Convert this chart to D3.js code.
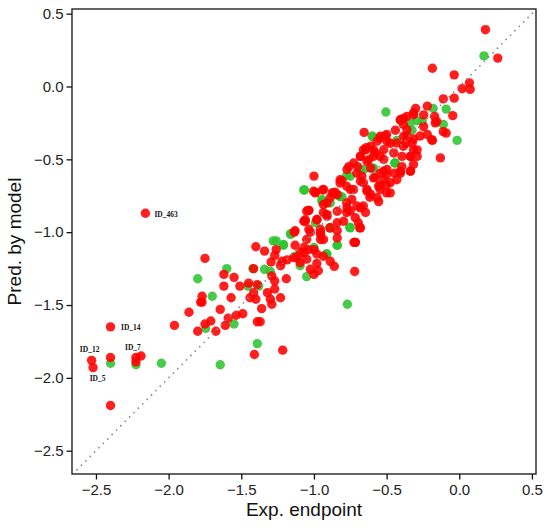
<!DOCTYPE html>
<html lang="en">
<head>
<meta charset="UTF-8">
<title>Exp. vs Pred.</title>
<style>
  body { margin: 0; background: #fff; }
  .tick text { font-family: 'Liberation Sans', Arial, sans-serif; font-size: 15px; fill: #222; }
  .axis-title { font-family: 'Liberation Sans', Arial, sans-serif; font-size: 19px; fill: #111; }
  .id-label { font-family: 'Liberation Serif', 'Times New Roman', serif; font-weight: bold; font-size: 7.5px; fill: #111; }
</style>
</head>
<body>
<div id="chart"></div>
<script src="https://d3js.org/d3.v7.min.js"></script>
<script>
// tick values
const xTicks = [-2.5, -2.0, -1.5, -1.0, -0.5, 0.0, 0.5];
const yTicks = [-2.5, -2.0, -1.5, -1.0, -0.5, 0.0, 0.5];

// green points [exp, pred]
const greenPts = [
  [-2.40,-1.90], [-2.225,-1.91], [-2.05,-1.90], [-1.80,-1.32], [-1.60,-1.25], [-1.70,-1.44],
  [-1.745,-1.66], [-1.55,-1.63], [-1.455,-1.37], [-1.38,-1.37], [-1.39,-1.765], [-1.645,-1.91],
  [-1.34,-1.255], [-1.42,-1.25], [-1.30,-1.27], [-1.28,-1.06], [-1.26,-1.06], [-1.21,-1.09],
  [-1.16,-1.015], [-1.13,-1.165], [-1.095,-1.23], [-1.05,-1.305], [-0.915,-1.15], [-0.77,-1.495],
  [-0.84,-1.09], [-0.99,-0.935], [-0.89,-0.97], [-1.07,-0.71], [-0.83,-0.75], [-0.755,-0.965],
  [0.17,0.21], [-0.09,-0.155], [-0.18,-0.15], [-0.505,-0.175], [-0.29,-0.235], [-0.325,-0.30],
  [-0.11,-0.26], [-0.015,-0.37], [-0.60,-0.34], [-0.43,-0.37], [-0.445,-0.525], [-0.68,-0.57],
  [-0.775,-0.61], [-1.065,-0.71], [-0.82,-0.755], [-0.945,-0.775], [-0.75,-0.97], [-1.16,-1.01],
  [-0.255,-0.24], [-0.59,-0.56], [-0.655,-0.57], [-0.888,-0.80], [-1.00,-1.105], [-0.60,-0.56],
  [-0.594,-0.347], [-0.337,-0.25], [-0.44,-0.525], [-0.75,-0.616], [-0.807,-0.758], [-0.945,-0.788],
  [-0.888,-0.97], [-0.91,-1.15], [-1.21,-1.085], [-0.84,-1.09]
];

// red points [exp, pred]
const redPts = [
  [-2.53,-1.88], [-2.52,-1.93], [-2.40,-1.65], [-2.40,-1.86], [-2.225,-1.86], [-2.19,-1.85],
  [-2.225,-1.89], [-2.40,-2.19], [-1.96,-1.64], [-1.86,-1.55], [-1.80,-1.68], [-1.78,-1.48],
  [-2.16,-0.87],
  [-1.75,-1.18], [-1.62,-1.29], [-1.55,-1.31], [-1.62,-1.37], [-1.77,-1.44], [-1.77,-1.48],
  [-1.57,-1.45], [-1.645,-1.53], [-1.75,-1.63], [-1.71,-1.61], [-1.675,-1.68], [-1.61,-1.64],
  [-1.59,-1.59], [-1.535,-1.57], [-1.49,-1.56], [-1.51,-1.37], [-1.45,-1.35], [-1.415,-1.415],
  [-1.39,-1.36], [-1.40,-1.46], [-1.44,-1.45], [-1.36,-1.525], [-1.39,-1.615], [-1.37,-1.615],
  [-1.41,-1.84], [-1.215,-1.81], [-1.32,-1.415], [-1.30,-1.46], [-1.29,-1.495], [-1.27,-1.39],
  [-1.27,-1.335], [-1.29,-1.30], [-1.415,-1.25], [-1.23,-1.45], [-1.19,-1.32], [-1.23,-1.23],
  [-1.295,-1.205], [-1.34,-1.13], [-1.26,-1.12], [-1.27,-1.16], [-1.40,-1.10], [-1.185,-1.19],
  [-1.13,-1.09], [-1.135,-1.00], [-1.115,-1.175], [-1.07,-1.14], [-1.095,-1.21], [-1.05,-1.185],
  [-1.025,-1.255], [-1.00,-1.29], [-0.97,-1.265], [-0.98,-1.215], [-1.00,-1.12], [-0.935,-1.165],
  [-0.86,-1.235], [-0.72,-1.27], [-1.05,-1.05], [-1.035,-0.98], [-1.07,-0.925], [-1.035,-0.85],
  [-0.955,-1.015], [-0.84,-0.99], [-0.91,-0.89], [-0.99,-0.73], [-0.725,-1.07],
  [-0.185,0.125], [-0.035,0.08], [0.07,0.025], [0.02,-0.015], [0.075,-0.02], [-0.11,-0.085],
  [-0.035,-0.08], [-0.045,-0.20], [-0.22,-0.135], [-0.30,-0.15], [-0.36,-0.205], [-0.315,-0.18],
  [-0.245,-0.195], [-0.405,-0.23], [-0.385,-0.26], [-0.44,-0.30], [-0.245,-0.275], [-0.17,-0.205],
  [-0.11,-0.31], [-0.165,-0.25], [-0.22,-0.33], [-0.185,-0.37], [-0.13,-0.49], [-0.655,-0.315],
  [-0.51,-0.34], [-0.565,-0.375], [-0.61,-0.41], [-0.66,-0.435], [-0.475,-0.39], [-0.37,-0.39],
  [-0.29,-0.435], [-0.335,-0.48], [-0.315,-0.535], [-0.335,-0.58], [-0.405,-0.595], [-0.52,-0.50],
  [-0.59,-0.48], [-0.68,-0.48], [-0.70,-0.55], [-0.76,-0.55], [-0.82,-0.64], [-1.00,-0.615],
  [-0.99,-0.725], [-0.94,-0.71], [-0.855,-0.725], [-0.775,-0.685], [-0.66,-0.66], [-0.545,-0.595],
  [-0.50,-0.605], [-0.50,-0.675], [-0.555,-0.79], [-0.615,-0.76], [-0.66,-0.82], [-0.74,-0.775],
  [-0.705,-0.82], [-0.775,-0.865], [-0.865,-0.73], [-0.91,-0.80], [-0.935,-0.865], [-1.05,-0.855],
  [-0.84,-0.935], [-0.89,-0.97], [-0.695,-0.935], [-0.955,-1.00], [-1.13,-0.99], [-0.645,-0.865],
  [-0.385,-0.22], [-0.155,-0.24], [-0.09,-0.32], [-0.545,-0.355], [-0.50,-0.33], [-0.36,-0.34],
  [-0.315,-0.36], [-0.27,-0.34], [-0.19,-0.365], [-0.385,-0.41], [-0.315,-0.435], [-0.29,-0.48],
  [-0.395,-0.55], [-0.545,-0.48], [-0.59,-0.435], [-0.645,-0.435], [-0.635,-0.515], [-0.52,-0.58],
  [-0.475,-0.66], [-0.545,-0.675], [-0.875,-0.73], [-0.705,-0.595], [-0.61,-0.56], [-0.58,-0.625],
  [-0.445,-0.595], [-0.555,-0.685], [-0.50,-0.73], [-0.61,-0.74], [-0.75,-0.855], [-0.775,-0.80],
  [-0.935,-0.81], [-1.06,-0.915], [-0.98,-0.915], [-0.685,-0.97], [-0.955,-1.05], [-0.715,-1.07],
  [-1.07,-1.105], [0.18,0.39], [0.265,0.195],
  [-0.64,-0.42], [-0.544,-0.342], [-0.497,-0.377], [-0.43,-0.388], [-0.383,-0.342], [-0.325,-0.388],
  [-0.406,-0.228], [-0.314,-0.194], [-0.36,-0.297], [-0.578,-0.456], [-0.52,-0.434], [-0.451,-0.456],
  [-0.394,-0.48], [-0.337,-0.48], [-0.337,-0.582], [-0.406,-0.582], [-0.497,-0.57], [-0.624,-0.502],
  [-0.68,-0.48], [-0.727,-0.525], [-0.773,-0.57], [-0.67,-0.616], [-0.59,-0.627], [-0.52,-0.64],
  [-0.43,-0.64], [-0.544,-0.707], [-0.635,-0.707], [-0.75,-0.707], [-0.82,-0.662], [-0.84,-0.742],
  [-0.566,-0.764], [-0.475,-0.73], [-1.003,-0.719], [-0.934,-0.707], [-0.807,-0.646], [-0.68,-0.65],
  [-0.635,-0.719], [-0.727,-0.707], [-0.888,-0.764], [-1.037,-0.85], [-1.06,-0.925], [-0.98,-0.913],
  [-0.91,-0.88], [-0.84,-0.856], [-0.773,-0.833], [-0.68,-0.833], [-0.716,-0.90], [-0.796,-0.925],
  [-0.956,-0.98], [-1.025,-1.00], [-0.934,-1.05], [-0.84,-1.04], [-0.68,-0.97], [-0.716,-1.07],
  [-1.037,-1.12], [-1.094,-1.14], [-0.98,-1.15], [-1.14,-1.175], [-1.22,-1.20], [-0.888,-1.20]
];

// labelled outliers
const labelIds = ["ID_463", "ID_14", "ID_12", "ID_7", "ID_5"];
const labelExp = [-2.16, -2.40, -2.53, -2.225, -2.52];
const labelPred = [-0.87, -1.65, -1.88, -1.86, -1.93];

// identity line ends
const lineEnds = [-2.63, 0.52];

const W = 550, H = 528;
const margin = { top: 9, right: 14, bottom: 54, left: 72 };

const svg = d3.select("#chart").append("svg")
  .attr("width", W)
  .attr("height", H);

const x = d3.scaleLinear().domain([-2.665, 0.528]).range([margin.left, W - margin.right]);
const y = d3.scaleLinear().domain([-2.66, 0.532]).range([H - margin.bottom, margin.top]);

const fmt = d3.format(".1f");

// axes
const xAxis = svg.append("g")
  .attr("transform", `translate(0,${H - margin.bottom})`)
  .call(d3.axisBottom(x).tickValues(xTicks).tickFormat(fmt).tickSize(5.5).tickPadding(5).tickSizeOuter(0));
xAxis.select(".domain").remove();

const yAxis = svg.append("g")
  .attr("transform", `translate(${margin.left},0)`)
  .call(d3.axisLeft(y).tickValues(yTicks).tickFormat(fmt).tickSize(5.5).tickPadding(3).tickSizeOuter(0));
yAxis.select(".domain").remove();

svg.selectAll(".tick line").attr("stroke", "#111").attr("stroke-width", 1.3);

// points
svg.append("g")
  .selectAll("circle")
  .data(greenPts)
  .enter().append("circle")
  .attr("cx", d => x(d[0]))
  .attr("cy", d => y(d[1]))
  .attr("r", 4.7)
  .attr("fill", "#2fc42f")
  .attr("fill-opacity", 0.88);

svg.append("g")
  .selectAll("circle")
  .data(redPts)
  .enter().append("circle")
  .attr("cx", d => x(d[0]))
  .attr("cy", d => y(d[1]))
  .attr("r", 4.7)
  .attr("fill", "#ff0000")
  .attr("fill-opacity", 0.88);

// dotted identity line, on top of the points
svg.append("line")
  .attr("x1", x(lineEnds[0])).attr("y1", y(lineEnds[0]))
  .attr("x2", x(lineEnds[1])).attr("y2", y(lineEnds[1]))
  .attr("stroke", "#8a8a8a")
  .attr("stroke-width", 1.8)
  .attr("stroke-linecap", "round")
  .attr("stroke-dasharray", "0 6.2");

// outlier labels (offset in px from point)
const labelOffset = {
  "ID_463": [9, 3.5, "start"],
  "ID_14": [10.5, 3.5, "start"],
  "ID_12": [-2, -8.5, "middle"],
  "ID_7": [-3, -7.6, "middle"],
  "ID_5": [4.5, 13, "middle"]
};
svg.append("g")
  .selectAll("text")
  .data(labelIds)
  .enter().append("text")
  .attr("class", "id-label")
  .attr("x", (d, i) => x(labelExp[i]) + labelOffset[d][0])
  .attr("y", (d, i) => y(labelPred[i]) + labelOffset[d][1])
  .attr("text-anchor", d => labelOffset[d][2])
  .text(d => d);

// frame
svg.append("rect")
  .attr("x", margin.left)
  .attr("y", margin.top)
  .attr("width", W - margin.left - margin.right)
  .attr("height", H - margin.top - margin.bottom)
  .attr("fill", "none")
  .attr("stroke", "#111")
  .attr("stroke-width", 1.3);

// titles
svg.append("text")
  .attr("class", "axis-title")
  .attr("x", (margin.left + W - margin.right) / 2)
  .attr("y", 516)
  .attr("text-anchor", "middle")
  .text("Exp. endpoint");

svg.append("text")
  .attr("class", "axis-title")
  .attr("transform", `translate(21,${(margin.top + H - margin.bottom) / 2}) rotate(-90)`)
  .attr("text-anchor", "middle")
  .text("Pred. by model");
</script>
</body>
</html>
